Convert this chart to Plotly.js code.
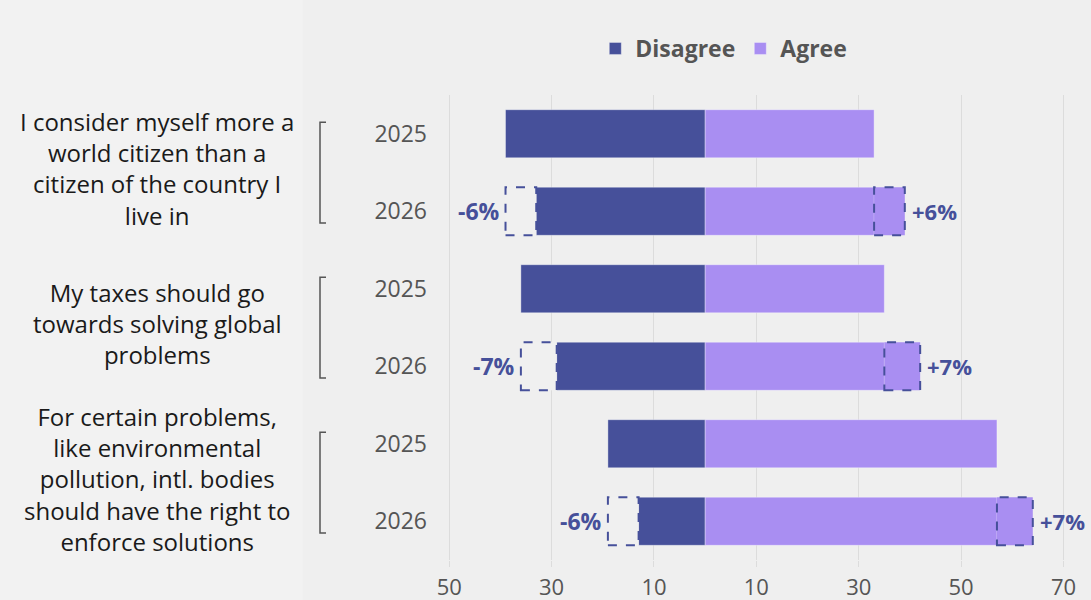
<!DOCTYPE html>
<html>
<head>
<meta charset="utf-8">
<script src="https://cdn.plot.ly/plotly-3.0.1.min.js"></script>
<style>html,body{margin:0;padding:0;background:#f2f2f2;}#chart{width:1091px;height:600px;}</style>
</head>
<body>
<div id="chart"></div>
<script>
const questions = [
  "I consider myself more a<br>world citizen than a<br>citizen of the country I<br>live in",
  "My taxes should go<br>towards solving global<br>problems",
  "For certain problems,<br>like environmental<br>pollution, intl. bodies<br>should have the right to<br>enforce solutions"
];
const years = ["2025", "2026"];
const disagree2025 = [39, 36, 19];
const disagree2026 = [33, 29, 13];
const agree2025 = [33, 35, 57];
const agree2026 = [39, 42, 64];
const changeDisagree = ["-6%", "-7%", "-6%"];
const changeAgree = ["+6%", "+7%", "+7%"];
const xTickVals = [-50, -30, -10, 10, 30, 50, 70];
const xTickText = ["50", "30", "10", "10", "30", "50", "70"];

const DIS = "#46509a", AGR = "#a98ef2", BG = "#f0f0f0";
const FONT = "Open Sans, sans-serif";
const nQ = questions.length;
const y25 = questions.map((_, q) => 2 * (nQ - 1 - q) + 1);
const y26 = questions.map((_, q) => 2 * (nQ - 1 - q));
const allY = [], disX = [], agrX = [];
questions.forEach((_, q) => {
  allY.push(y25[q], y26[q]);
  disX.push(-disagree2025[q], -disagree2026[q]);
  agrX.push(agree2025[q], agree2025[q]);
});
const W = 0.62;
const traces = [
  {type: "bar", orientation: "h", name: "<b>Disagree</b>", y: allY, x: disX, width: W,
   marker: {color: DIS, line: {color: "rgba(255,255,255,0.35)", width: 1}}, hoverinfo: "x"},
  {type: "bar", orientation: "h", name: "<b>Agree</b>", y: allY, x: agrX, width: W,
   marker: {color: AGR, line: {color: "rgba(255,255,255,0.35)", width: 1}}, hoverinfo: "x"}
];

const shapes = [
  {type: "rect", xref: "paper", yref: "paper", x0: -0.213, x1: 1.01, y0: -0.2, y1: 1.25, fillcolor: "#efefef", line: {width: 0}, layer: "below"}
];
const annotations = [];
questions.forEach((text, q) => {
  const h = W / 2;
  shapes.push({type: "rect", xref: "x", yref: "y", x0: -disagree2025[q], x1: -disagree2026[q],
    y0: y26[q] - h, y1: y26[q] + h, fillcolor: BG, line: {color: DIS, width: 2, dash: "dash"}, layer: "above"});
  shapes.push({type: "rect", xref: "x", yref: "y", x0: agree2025[q], x1: agree2026[q],
    y0: y26[q] - h, y1: y26[q] + h, fillcolor: AGR, line: {color: DIS, width: 2, dash: "dash"}, layer: "above"});
  const yt = y25[q] + 0.15, yb = y26[q] - 0.15;
  shapes.push({type: "path", xref: "paper", xsizemode: "pixel", xanchor: 0, yref: "y",
    path: `M -114,${yt} L -120,${yt} L -120,${yb} L -114,${yb}`, line: {color: "#555", width: 1.5}});
  annotations.push({xref: "x", yref: "y", x: -disagree2025[q], y: y26[q], text: "<b>" + changeDisagree[q] + "</b>",
    showarrow: false, xanchor: "right", xshift: -4, font: {family: FONT, size: 23, color: DIS}});
  annotations.push({xref: "x", yref: "y", x: agree2026[q], y: y26[q], text: "<b>" + changeAgree[q] + "</b>",
    showarrow: false, xanchor: "left", xshift: 5, font: {family: FONT, size: 22, color: DIS}});
  annotations.push({xref: "paper", yref: "y", x: 0, xshift: -283, y: (y25[q] + y26[q]) / 2, yshift: 4, text: text,
    showarrow: false, xanchor: "center", yanchor: "middle", align: "center",
    font: {family: FONT, size: 24, color: "#1a1a1a"}});
});

const layout = {
  width: 1091, height: 600,
  paper_bgcolor: "#f2f2f2", plot_bgcolor: "rgba(0,0,0,0)",
  margin: {l: 440, r: 6, t: 95, b: 40},
  barmode: "overlay",
  showlegend: true,
  legend: {orientation: "h", x: 0.44, xanchor: "center", y: 1.1, yanchor: "middle", bgcolor: "rgba(0,0,0,0)",
    font: {family: FONT, size: 23, color: "#555"}, traceorder: "normal", itemwidth: 30},
  xaxis: {range: [-51.8, 74.2], tickvals: xTickVals, ticktext: xTickText, showgrid: true,
    gridcolor: "#dcdcdc", gridwidth: 1, zeroline: false, ticks: "outside", ticklen: 6, tickcolor: "#dcdcdc",
    ticklabelstandoff: 2, tickfont: {family: FONT, size: 22, color: "#555"}, fixedrange: true},
  yaxis: {range: [-0.5, 2 * nQ - 0.5], tickvals: allY, ticktext: allY.map(v => years[(v % 2 === 1) ? 0 : 1]),
    showgrid: false, zeroline: false, ticks: "", ticklabelstandoff: 12,
    tickfont: {family: FONT, size: 23, color: "#555"}, fixedrange: true},
  shapes: shapes,
  annotations: annotations
};
Plotly.newPlot("chart", traces, layout, {displayModeBar: false, staticPlot: true});
</script>
</body>
</html>
